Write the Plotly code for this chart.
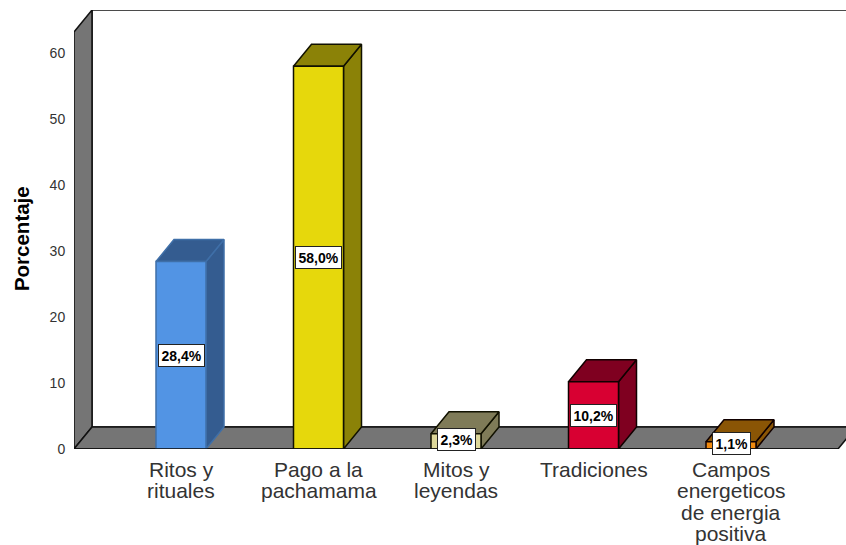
import plotly.graph_objects as go

categories = ["Ritos y rituales", "Pago a la pachamama", "Mitos y leyendas", "Tradiciones", "Campos energeticos de energia positiva"]
category_lines = [["Ritos y", "rituales"], ["Pago a la", "pachamama"], ["Mitos y", "leyendas"], ["Tradiciones"],
                  ["Campos", "energeticos", "de energia", "positiva"]]
values = [28.4, 58.0, 2.3, 10.2, 1.1]
labels = ["28,4%", "58,0%", "2,3%", "10,2%", "1,1%"]
front_colors = ["#5294E4", "#E6D80C", "#DDD79A", "#D80032", "#F08A10"]
side_colors = ["#345C90", "#8B8207", "#7F7B58", "#7F0020", "#8A5505"]
edge_colors = ["#3F6FA8", "#111100", "#111100", "#110000", "#110000"]
y_ticks = [0, 10, 20, 30, 40, 50, 60]

# scale: 137.5 px per category, 6.6 px per percentage point
DX = 18 / 137.5      # depth offset along x (category units)
DY = 22 / 6.6        # depth offset along y (percent units)
HALF = 25 / 137.5    # half bar width
X_LEFT = (74 - 181) / 137.5
X_RIGHT = (846 - 181) / 137.5
X_FLOOR = (838 - 181) / 137.5
Y_TOP = (449 - 32) / 6.6
WALL = "#757575"
EDGE = "#111111"

fig = go.Figure()


def poly(xs, ys, fill, line=EDGE, width=1.5):
    fig.add_trace(go.Scatter(
        x=xs + xs[:1], y=ys + ys[:1], mode="lines", fill="toself", fillcolor=fill,
        line=dict(color=line, width=width, shape="linear"), hoverinfo="skip",
        showlegend=False, cliponaxis=False))


# back wall
poly([X_LEFT + DX, X_LEFT + DX, X_FLOOR + DX, X_FLOOR + DX], [DY, Y_TOP + DY, Y_TOP + DY, DY], "#FFFFFF")
# left wall
poly([X_LEFT, X_LEFT, X_LEFT + DX, X_LEFT + DX], [0, Y_TOP, Y_TOP + DY, DY], WALL)
# floor
poly([X_LEFT, X_LEFT + DX, X_FLOOR + DX, X_FLOOR], [0, DY, DY, 0], WALL)

# bars
for i, v in enumerate(values):
    l, r = i - HALF, i + HALF
    e = edge_colors[i]
    poly([r, r + DX, r + DX, r], [0, DY, v + DY, v], side_colors[i], e)
    poly([l, l + DX, r + DX, r], [v, v + DY, v + DY, v], side_colors[i], e)
    poly([l, r, r, l], [0, 0, v, v], front_colors[i], e)

fig.add_trace(go.Scatter(x=[X_LEFT, X_FLOOR], y=[0, 0], mode="lines", line=dict(color=EDGE, width=1.5),
                         hoverinfo="skip", showlegend=False, cliponaxis=False))

annotations = []
for i, v in enumerate(values):
    annotations.append(dict(
        x=i, y=v / 2 if v > 5 else 0.3 + v / 2, xref="x", yref="y", text="<b>%s</b>" % labels[i], showarrow=False,
        font=dict(family="Liberation Sans", size=14, color="#000000"),
        bgcolor="#FFFFFF", bordercolor="#222222", borderwidth=1, borderpad=2.5))
    for j, line in enumerate(category_lines[i]):
        annotations.append(dict(
            x=i, y=0, xref="x", yref="y", text=line, showarrow=False, yanchor="middle",
            yshift=-(20 + 21.6 * j),
            font=dict(family="Liberation Sans", size=21, color="#333333")))

# y-axis title, centred where the reference puts it (below the axis middle)
annotations.append(dict(
    x=0, y=31.8, xref="paper", yref="y", text="<b>Porcentaje</b>", showarrow=False, textangle=-90,
    xanchor="center", xshift=-53, font=dict(family="Liberation Sans", size=20.5, color="#000000")))

fig.update_layout(
    width=846, height=545, autosize=False,
    margin=dict(l=74, r=0, t=10, b=96),
    paper_bgcolor="#FFFFFF", plot_bgcolor="#FFFFFF",
    showlegend=False,
    annotations=annotations,
    xaxis=dict(range=[X_LEFT, X_RIGHT], showgrid=False, zeroline=False, showticklabels=False, showline=False,
               ticks="", fixedrange=True),
    yaxis=dict(range=[0, (449 - 10) / 6.6], tickvals=y_ticks, showgrid=False, zeroline=False, showline=False,
               ticks="outside", ticklen=5, tickcolor="#FFFFFF",
               tickfont=dict(family="Liberation Sans", size=14, color="#333333"),
               fixedrange=True),
)
fig.write_html("out.html", config=dict(displayModeBar=False),
               post_script="document.documentElement.style.overflow='hidden';document.body.style.margin='0';")
